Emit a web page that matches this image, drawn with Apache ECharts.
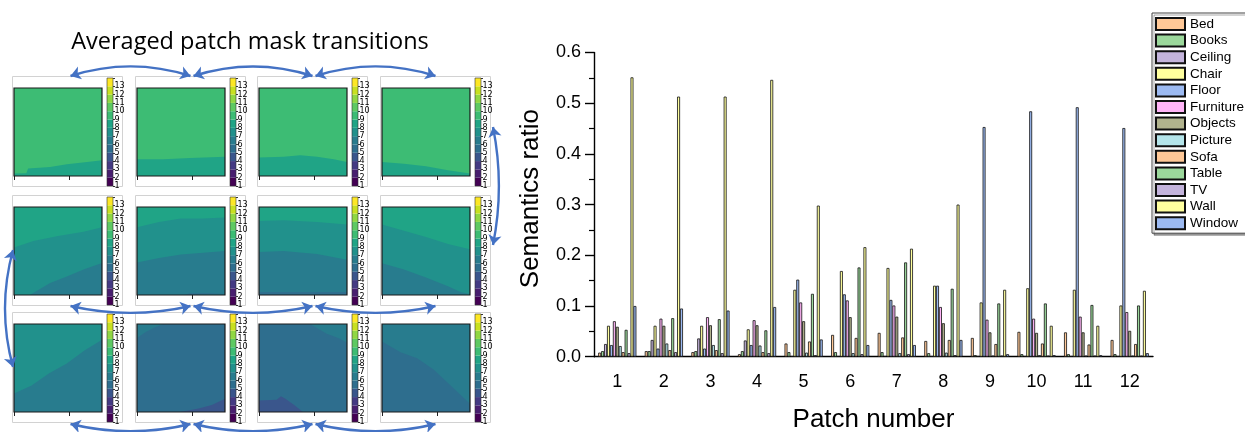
<!DOCTYPE html>
<html><head><meta charset="utf-8">
<script src="https://cdn.jsdelivr.net/npm/echarts@6/dist/echarts.min.js"></script>
<style>html,body{margin:0;padding:0;background:#fff}#c{width:1245px;height:432px}</style>
</head><body><div id="c"></div>
<script>
// ---------------- bar chart data ----------------
const patches = ['1','2','3','4','5','6','7','8','9','10','11','12'];
const classNames = ['Bed','Books','Ceiling','Chair','Floor','Furniture','Objects','Picture','Sofa','Table','TV','Wall','Window'];
const bed       = [0.008,0.011,0.009,0.005,0.026,0.043,0.047,0.031,0.037,0.049,0.048,0.033];
const books     = [0.011,0.011,0.011,0.011,0.009,0.009,0.009,0.007,0.003,0.005,0.005,0.005];
const ceiling   = [0.025,0.033,0.036,0.032,0.001,0.001,0.001,0.001,0.001,0.001,0.001,0.001];
const chair     = [0.061,0.061,0.061,0.054,0.132,0.169,0.175,0.140,0.107,0.135,0.132,0.101];
const floor     = [0.023,0.016,0.016,0.023,0.152,0.123,0.112,0.140,0.453,0.484,0.492,0.451];
const furniture = [0.070,0.075,0.078,0.072,0.107,0.111,0.101,0.098,0.073,0.075,0.079,0.088];
const objects   = [0.059,0.061,0.062,0.062,0.070,0.078,0.079,0.066,0.048,0.047,0.048,0.051];
const picture   = [0.021,0.026,0.023,0.022,0.008,0.007,0.007,0.008,0.002,0.003,0.002,0.002];
const sofa      = [0.009,0.013,0.013,0.009,0.030,0.037,0.038,0.033,0.025,0.026,0.024,0.025];
const table     = [0.053,0.076,0.074,0.052,0.124,0.176,0.186,0.134,0.105,0.105,0.102,0.101];
const tv        = [0.007,0.009,0.007,0.007,0.003,0.005,0.005,0.003,0.002,0.002,0.002,0.002];
const wall      = [0.551,0.513,0.513,0.546,0.298,0.216,0.213,0.300,0.132,0.061,0.061,0.130];
const windowV   = [0.100,0.095,0.091,0.098,0.034,0.023,0.023,0.033,0.005,0.003,0.003,0.007];
const classValues = [bed,books,ceiling,chair,floor,furniture,objects,picture,sofa,table,tv,wall,windowV];
const classColors = ['#ffc897','#9bd89b','#c4b4dc','#ffff9e','#9cbaf2','#ffb4f7','#b1b38d','#b4e5ea','#ffc897','#9bd89b','#c4b4dc','#ffff9e','#9cbaf2'];

// ---------------- heat map panels (level bands: 1..13) ----------------
const cbTicks = [1,2,3,4,5,6,7,8,9,10,11,12,13];
const levelColors = ['#440154','#481e6f','#443a83','#3a568c','#2e6e8e','#287c8e','#21918c','#20a486','#3dbc74','#5ec962','#90d743','#c8e020','#fde725'];
const panelBase = [9,9,9,9, 8,8,8,8, 7,6,6,6];
// each band: [level, boundary points [x fraction, height fraction]]; area below boundary gets level colour
const bands1  = [[8, [[0,0.027],[0.14,0.03],[0.16,0.084],[0.41,0.103],[0.6,0.134],[0.83,0.16],[1,0.18]]]];
const bands2  = [[8, [[0,0.19],[0.3,0.19],[0.6,0.205],[1,0.22]]]];
const bands3  = [[8, [[0,0.21],[0.28,0.22],[0.47,0.237],[0.66,0.22],[0.85,0.19],[1,0.16]]]];
const bands4  = [[8, [[0,0.16],[0.25,0.14],[0.5,0.11],[0.75,0.065],[1,0.027]]]];
const bands5  = [[7, [[0,0.54],[0.22,0.615],[0.5,0.67],[0.79,0.72],[1,0.77]]],
                 [6, [[0,0],[0.18,0],[0.41,0.135],[0.6,0.21],[0.79,0.29],[1,0.365]]]];
const bands6  = [[7, [[0,0.77],[0.25,0.83],[0.5,0.87],[0.75,0.87],[1,0.88]]],
                 [6, [[0,0.37],[0.25,0.42],[0.5,0.46],[0.75,0.48],[1,0.5]]],
                 [5, [[0,0],[0.55,0],[0.6,0.02],[1,0.02]]]];
const bands7  = [[7, [[0,0.84],[0.28,0.85],[0.66,0.83],[1,0.8]]],
                 [6, [[0,0.49],[0.28,0.5],[0.66,0.466],[1,0.4]]],
                 [5, [[0,0.034],[1,0.034]]]];
const bands8  = [[7, [[0,0.8],[0.25,0.73],[0.5,0.66],[0.75,0.58],[1,0.52]]],
                 [6, [[0,0.36],[0.25,0.29],[0.5,0.2],[0.75,0.1],[0.9,0.03],[1,0.01]]]];
const bands9  = [[6, [[0,0.21],[0.2,0.3],[0.4,0.44],[0.6,0.55],[0.8,0.7],[1,0.82]]]];
const bands10 = [[5, [[0,0.84],[0.1,0.91],[0.2,0.96],[0.3,1],[1,1]]],
                 [4, [[0,0],[0.49,0],[0.7,0.04],[0.85,0.08],[1,0.15]]]];
const bands11 = [[5, [[0,1],[0.58,1],[0.77,0.89],[0.9,0.84],[1,0.79]]],
                 [4, [[0,0.13],[0.2,0.14],[0.25,0.18],[0.3,0.15],[0.4,0.08],[0.5,0],[1,0]]]];
const bands12 = [[5, [[0,0.8],[0.21,0.68],[0.4,0.61],[0.59,0.48],[0.78,0.3],[1,0.095]]]];
const panelBands = [bands1,bands2,bands3,bands4,bands5,bands6,bands7,bands8,bands9,bands10,bands11,bands12];

// ---------------- layout ----------------
const panelLeft = [14,137,259,382];
const panelTop = [88,207,324];
const pSize = 88;
const FONT = 'Liberation Sans';

const grids = [], xAxes = [], yAxes = [], series = [], graphics = [];

// bar chart grid (index 0)
grids.push({left:594, top:52.5, width:559, height:304.2, outerBoundsMode:'none', containLabel:false});
xAxes.push({type:'category', gridIndex:0, data:patches,
  axisLine:{lineStyle:{color:'#000',width:1.4}},
  axisTick:{alignWithLabel:true,length:8,lineStyle:{color:'#000',width:1.4}},
  axisLabel:{fontSize:18,color:'#000',margin:16,fontFamily:FONT},
  name:'Patch number', nameLocation:'middle', nameGap:50,
  nameTextStyle:{fontSize:26,color:'#000',fontFamily:FONT}});
xAxes.push({type:'category', gridIndex:0, data:patches, position:'bottom',
  axisLine:{show:false}, axisTick:{length:4,lineStyle:{color:'#000',width:1.2}}, axisLabel:{show:false}});
yAxes.push({type:'value', gridIndex:0, min:0, max:0.6, interval:0.1,
  axisLine:{show:true,lineStyle:{color:'#000',width:1.4}},
  axisTick:{show:true,length:9,lineStyle:{color:'#000',width:1.4}},
  minorTick:{show:true,splitNumber:2,length:5,lineStyle:{color:'#000',width:1.2}},
  splitLine:{show:false},
  axisLabel:{formatter:v=>v.toFixed(1),fontSize:18,color:'#000',margin:13,fontFamily:FONT},
  name:'Semantics ratio', nameLocation:'middle', nameGap:50,
  nameTextStyle:{fontSize:26,color:'#000',fontFamily:FONT,padding:[0,0,0,12]}});
classNames.forEach((n,i)=>{
  series.push({type:'bar', name:n, xAxisIndex:0, yAxisIndex:0, data:classValues[i],
    barGap:'0%', barCategoryGap:'18%',
    itemStyle:{color:classColors[i], borderColor:'#111', borderWidth:0.8}, z:3});
});

// panels and colorbars
for (let r=0;r<3;r++){
  for (let c=0;c<4;c++){
    const p = r*4+c;
    const L = panelLeft[c], T = panelTop[r];
    graphics.push({type:'rect', shape:{x:L-1.5, y:T-11.5, width:110, height:110},
      style:{fill:'none', stroke:'#d2d2d2', lineWidth:1}, silent:true, z:0});
    const gi = grids.length;
    grids.push({left:L, top:T, width:pSize, height:pSize, show:true, backgroundColor:'transparent',
      borderColor:'#1a1a1a', borderWidth:1.2, z:20, outerBoundsMode:'none', containLabel:false});
    const xi = xAxes.length, yi = yAxes.length;
    xAxes.push({type:'value', gridIndex:gi, min:0, max:1, axisLine:{show:false},
      axisTick:{show:true, length:4, customValues:[0,0.625], lineStyle:{color:'#222',width:1}},
      axisLabel:{show:false}, splitLine:{show:false}});
    yAxes.push({type:'value', gridIndex:gi, min:0, max:1, show:false});
    series.push({type:'line', xAxisIndex:xi, yAxisIndex:yi, data:[[0,1],[1,1]], symbol:'none',
      lineStyle:{width:0}, areaStyle:{color:levelColors[panelBase[p]-1], opacity:1, origin:'start'}, silent:true, z:2});
    panelBands[p].forEach((b,j)=>{
      series.push({type:'line', xAxisIndex:xi, yAxisIndex:yi, data:b[1], symbol:'none',
        lineStyle:{width:0}, areaStyle:{color:levelColors[b[0]-1], opacity:1, origin:'start'}, silent:true, z:3+j});
    });
    const ci = grids.length;
    grids.push({left:L+93, top:T-10, width:6, height:108, show:true, backgroundColor:'transparent',
      borderColor:'#333', borderWidth:0.6, z:20, outerBoundsMode:'none', containLabel:false});
    const cxi = xAxes.length, cyi = yAxes.length;
    xAxes.push({type:'value', gridIndex:ci, min:0, max:1, show:false});
    yAxes.push({type:'category', gridIndex:ci, data:cbTicks.map(String), show:false});
    yAxes.push({type:'value', gridIndex:ci, min:1, max:14, interval:1, position:'right',
      axisLine:{show:false}, splitLine:{show:false},
      axisTick:{show:true, length:2, lineStyle:{color:'#000',width:0.8}},
      axisLabel:{show:true, margin:1.5, fontSize:8, color:'#000', fontFamily:'DejaVu Sans',
        formatter:v=> (cbTicks.indexOf(v)>=0 ? String(v) : '')}});
    series.push({type:'bar', xAxisIndex:cxi, yAxisIndex:cyi, barCategoryGap:'0%',
      data:cbTicks.map((t,k)=>({value:1, itemStyle:{color:levelColors[k]}})), silent:true, z:3});
  }
}

// arrows overlay
const og = grids.length;
grids.push({left:0, top:0, width:1245, height:432, outerBoundsMode:'none', containLabel:false});
const oxi = xAxes.length, oyi = yAxes.length;
xAxes.push({type:'value', gridIndex:og, min:0, max:1245, show:false});
yAxes.push({type:'value', gridIndex:og, min:0, max:432, inverse:true, show:false});
const tickX = panelLeft.map(x=>x+0.625*pSize);
const arrowData = [];
for (let c=0;c<3;c++){
  arrowData.push({coords:[[tickX[c]+1.5, panelTop[0]-12],[tickX[c+1]-1.5, panelTop[0]-12]], lineStyle:{curveness:0.16}});
  arrowData.push({coords:[[tickX[c]+1.5, panelTop[1]+99],[tickX[c+1]-1.5, panelTop[1]+99]], lineStyle:{curveness:-0.115}});
  arrowData.push({coords:[[tickX[c]+1.5, panelTop[2]+100],[tickX[c+1]-1.5, panelTop[2]+100]], lineStyle:{curveness:-0.12}});
}
arrowData.push({coords:[[panelLeft[0]-1, panelTop[1]+43],[panelLeft[0]-1, panelTop[2]+43]], lineStyle:{curveness:-0.137}});
arrowData.push({coords:[[panelLeft[3]+111, panelTop[0]+39],[panelLeft[3]+111, panelTop[1]+38]], lineStyle:{curveness:0.1}});
series.push({type:'lines', coordinateSystem:'cartesian2d', xAxisIndex:oxi, yAxisIndex:oyi,
  symbol:['arrow','arrow'], symbolSize:10, data:arrowData, silent:true, z:30,
  lineStyle:{color:'#4472c4', width:2.4, opacity:1}});

graphics.push({type:'text', x:250, y:42, z:50,
  style:{text:'Averaged patch mask transitions', fontSize:23.5, fontFamily:'Open Sans', fill:'#000',
    align:'center', verticalAlign:'middle'}});

const chart = echarts.init(document.getElementById('c'), null, {renderer:'canvas'});
chart.setOption({
  animation:false,
  backgroundColor:'#fff',
  grid:grids, xAxis:xAxes, yAxis:yAxes, series:series, graphic:graphics,
  legend:{data:classNames, orient:'vertical', left:1152, top:13, padding:[4,4,3,3],
    itemWidth:29, itemHeight:12, itemGap:2.6, icon:'rect',
    backgroundColor:'#fff', borderColor:'#444', borderWidth:1,
    shadowColor:'rgba(0,0,0,0.35)', shadowOffsetX:2, shadowOffsetY:2, shadowBlur:0,
    textStyle:{fontSize:13.5, color:'#000', fontFamily:FONT}, selectedMode:false}
});
</script></body></html>
